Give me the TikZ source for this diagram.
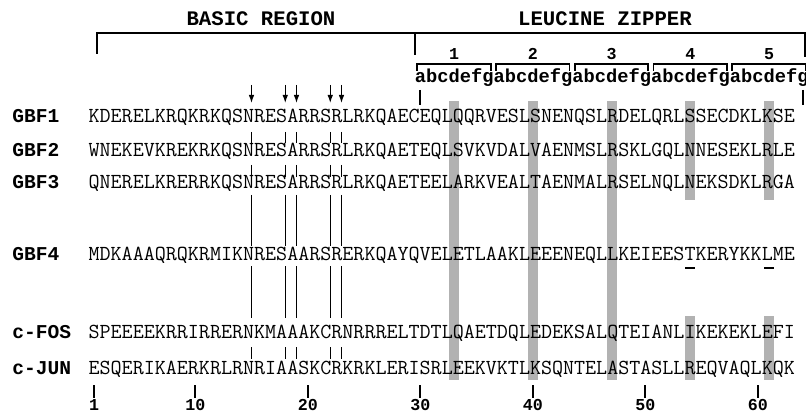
\documentclass[tikz,border=0pt]{standalone}
\usepackage{fontspec}
\newfontfamily\boldmono{Liberation Mono}
\usetikzlibrary{arrows.meta}
\begin{document}
\begin{tikzpicture}[x=0.75pt,y=-0.75pt,
  seq/.style={anchor=base west,inner sep=0pt,font=\ttfamily\fontsize{16.07}{18}\selectfont},
  lab/.style={anchor=base west,inner sep=0pt,font=\boldmono\bfseries\fontsize{14.7}{17}\selectfont},
  hdr/.style={anchor=base,inner sep=0pt,font=\boldmono\bfseries\fontsize{15.5}{18}\selectfont},
  hept/.style={anchor=base west,inner sep=0pt,font=\boldmono\bfseries\fontsize{14.06}{17}\selectfont},
  num/.style={anchor=base,inner sep=0pt,font=\boldmono\bfseries\fontsize{12.5}{15}\selectfont},
  bigbrk/.style={line width=2.2pt,line join=miter},
  hbrk/.style={line width=1.4pt,line join=miter},
  cons/.style={line width=1pt},
  tickl/.style={line width=1.3pt},
  shd/.style={fill=black!30,draw=none},
  arr/.style={line width=0.9pt,-{Latex[length=6pt,width=4.2pt]}},
  uline/.style={line width=2.2pt},
]
\useasboundingbox (0,0) rectangle (806,413);
% shaded leucine columns
\foreach \p in {33,40,47}
  \fill[shd] ({94+(\p-1)*11.25-5},101) rectangle ({94+(\p-1)*11.25+5},380);
\foreach \p in {54,61}{
  \fill[shd] ({94+(\p-1)*11.25-5},101) rectangle ({94+(\p-1)*11.25+5},200);
  \fill[shd] ({94+(\p-1)*11.25-5},316) rectangle ({94+(\p-1)*11.25+5},380);
}
% headers
\node[hdr] (basic) at (261,26) {BASIC REGION};
\node[hdr] (lzip) at (605,26) {LEUCINE ZIPPER};
% big brackets
\draw[bigbrk] (97,54) -- (97,33) -- (805,33) -- (805,57);
\draw[bigbrk] (415,33) -- (415,55);
% heptad numbers and brackets
\foreach \k in {1,...,5}{
  \node[num] (h\k) at ({94+(32+7*(\k-1))*11.25},60) {\k};
  \draw[hbrk] ({94+(29+7*(\k-1))*11.25-3},71) -- ({94+(29+7*(\k-1))*11.25-3},64)
     -- ({94+(35+7*(\k-1))*11.25+3},64) -- ({94+(35+7*(\k-1))*11.25+3},71);
}
\node[hept] (abc) at (414.625,83) {abcdefgabcdefgabcdefgabcdefgabcdefg};
\draw[tickl] (420.25,90) -- (420.25,105);
\draw[tickl] (803,90) -- (803,105);
% arrows
\foreach \p in {15,18,19,22,23}
  \draw[arr] ({94+(\p-1)*11.25},85) -- ({94+(\p-1)*11.25},103);
% labels and sequences
\node[lab] (l1) at (12,123) {GBF1};
\node[seq] (s1) at (88.375,123) {KDERELKRQKRKQSNRESARRSRLRKQAECEQLQQRVESLSNENQSLRDELQRLSSECDKLKSE};
\node[lab] (l2) at (12,157) {GBF2};
\node[seq] (s2) at (88.375,157) {WNEKEVKREKRKQSNRESARRSRLRKQAETEQLSVKVDALVAENMSLRSKLGQLNNESEKLRLE};
\node[lab] (l3) at (12,189) {GBF3};
\node[seq] (s3) at (88.375,189) {QNERELKRERRKQSNRESARRSRLRKQAETEELARKVEALTAENMALRSELNQLNEKSDKLRGA};
\node[lab] (l4) at (12,261) {GBF4};
\node[seq] (s4) at (88.375,261) {MDKAAAQRQKRMIKNRESAARSRERKQAYQVELETLAAKLEEENEQLLKEIEESTKERYKKLME};
\node[lab] (l5) at (12,338) {c-FOS};
\node[seq] (s5) at (88.375,338) {SPEEEEKRRIRRERNKMAAAKCRNRRRELTDTLQAETDQLEDEKSALQTEIANLIKEKEKLEFI};
\node[lab] (l6) at (12,374) {c-JUN};
\node[seq] (s6) at (88.375,374) {ESQERIKAERKRLRNRIAASKCRKRKLERISRLEEKVKTLKSQNTELASTASLLREQVAQLKQK};
% conservation bars
\foreach \p in {15,18,19,22,23}{
  \draw[cons] ({94+(\p-1)*11.25},132) -- ({94+(\p-1)*11.25},143);
  \draw[cons] ({94+(\p-1)*11.25},165) -- ({94+(\p-1)*11.25},177);
  \draw[cons] ({94+(\p-1)*11.25},195) -- ({94+(\p-1)*11.25},246);
  \draw[cons] ({94+(\p-1)*11.25},266) -- ({94+(\p-1)*11.25},318);
  \draw[cons] ({94+(\p-1)*11.25},347) -- ({94+(\p-1)*11.25},359);
}
% underlines in GBF4
\foreach \p in {54,61}
  \draw[uline] ({94+(\p-1)*11.25-5},268) -- ({94+(\p-1)*11.25+5},268);
% position ruler
\foreach \p in {1,10,20,30,40,50,60}{
  \draw[tickl] ({94+(\p-1)*11.25},385) -- ({94+(\p-1)*11.25},398);
  \node[num] (n\p) at ({94+(\p-1)*11.25},410) {\p};
}
\end{tikzpicture}
\end{document}
